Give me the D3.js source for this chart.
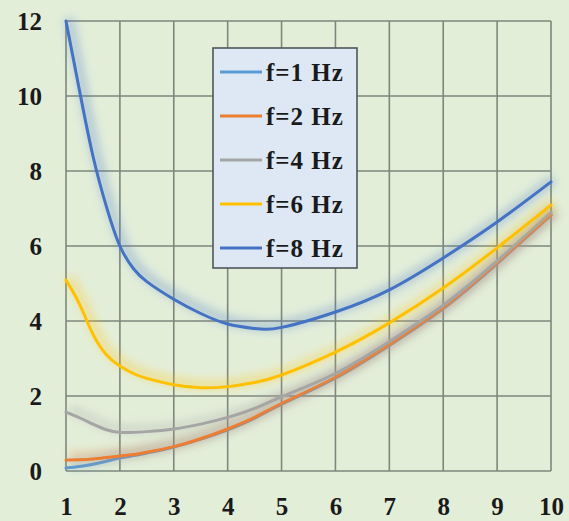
<!DOCTYPE html>
<html>
<head>
<meta charset="utf-8">
<script src="https://cdn.jsdelivr.net/npm/d3@7"></script>
<style>
  html, body { margin: 0; padding: 0; background: #e3eed9; }
  svg { display: block; }
</style>
</head>
<body>
<svg id="chart" width="569" height="521"></svg>
<script>
// Sample positions along the horizontal axis
const xValues = [1, 1.25, 1.5, 1.75, 2, 2.25, 2.5, 3, 3.5, 4, 4.5, 5, 6, 7, 8, 9, 10];

// Curves, one per frequency
const f1Hz = [0.08, 0.12, 0.18, 0.26, 0.35, 0.41, 0.48, 0.64, 0.85, 1.1, 1.41, 1.78, 2.48, 3.35, 4.33, 5.53, 6.82];
const f2Hz = [0.29, 0.3, 0.32, 0.36, 0.4, 0.44, 0.5, 0.65, 0.86, 1.12, 1.43, 1.8, 2.5, 3.37, 4.35, 5.55, 6.83];
const f4Hz = [1.57, 1.42, 1.25, 1.1, 1.03, 1.03, 1.05, 1.12, 1.25, 1.43, 1.67, 1.98, 2.6, 3.45, 4.42, 5.6, 6.9];
const f6Hz = [5.09, 4.45, 3.65, 3.1, 2.8, 2.6, 2.47, 2.3, 2.22, 2.25, 2.36, 2.56, 3.17, 3.95, 4.88, 5.95, 7.09];
const f8Hz = [12, 10.15, 8.4, 7.05, 6.0, 5.4, 5.05, 4.58, 4.2, 3.92, 3.8, 3.83, 4.24, 4.83, 5.68, 6.64, 7.71];

const seriesNames = ["f=1 Hz", "f=2 Hz", "f=4 Hz", "f=6 Hz", "f=8 Hz"];
const seriesValues = [f1Hz, f2Hz, f4Hz, f6Hz, f8Hz];
const seriesColors = ["#5b9bd5", "#ed7d31", "#a5a5a5", "#ffc000", "#4472c4"];

const xTicks = [1, 2, 3, 4, 5, 6, 7, 8, 9, 10];
const yTicks = [0, 2, 4, 6, 8, 10, 12];

const FONT = "Liberation Serif";

const svg = d3.select("#chart");
const plotLeft = 66, plotRight = 551, plotTop = 21, plotBottom = 471;

const x = d3.scaleLinear().domain([1, 10]).range([plotLeft, plotRight]);
const y = d3.scaleLinear().domain([0, 12]).range([plotBottom, plotTop]);

// Soft glow behind each curve
const defs = svg.append("defs");
const glow = defs.append("filter").attr("id", "glow")
  .attr("x", "-20%").attr("y", "-20%").attr("width", "140%").attr("height", "140%");
glow.append("feGaussianBlur").attr("stdDeviation", 4.5);

// Grid
const grid = svg.append("g").attr("stroke", "#7d877b").attr("stroke-width", 1.6);
grid.selectAll("line.v").data(xTicks).join("line")
  .attr("x1", d => x(d)).attr("x2", d => x(d))
  .attr("y1", plotTop).attr("y2", plotBottom);
grid.selectAll("line.h").data(yTicks).join("line")
  .attr("x1", plotLeft).attr("x2", plotRight)
  .attr("y1", d => y(d)).attr("y2", d => y(d));

// Axes (labels only)
const xAxis = svg.append("g").attr("transform", `translate(0,${plotBottom})`)
  .call(d3.axisBottom(x).tickValues(xTicks).tickSize(0).tickPadding(0).tickFormat(d3.format("d")));
xAxis.select(".domain").remove();
xAxis.selectAll("text").attr("y", 44).attr("dy", null);

const yAxis = svg.append("g").attr("transform", `translate(${plotLeft},0)`)
  .call(d3.axisLeft(y).tickValues(yTicks).tickSize(0).tickPadding(24).tickFormat(d3.format("d")));
yAxis.select(".domain").remove();
yAxis.selectAll("text").attr("dy", "0.34em");

[xAxis, yAxis].forEach(a => a.attr("font-family", FONT).attr("font-size", 25).attr("font-weight", "bold"));
svg.selectAll(".tick text").attr("fill", "#1a1a1a");

// Curves
const line = d3.line()
  .x((d, i) => x(xValues[i]))
  .y(d => y(d))
  .curve(d3.curveNatural);

const curves = svg.append("g");
seriesValues.forEach((vals, k) => {
  const g = curves.append("g");
  g.append("path")
    .attr("d", line(vals))
    .attr("fill", "none")
    .attr("stroke", seriesColors[k])
    .attr("stroke-width", 11)
    .attr("stroke-opacity", 0.28)
    .attr("transform", "translate(3,-3)")
    .attr("filter", "url(#glow)");
  g.append("path")
    .attr("d", line(vals))
    .attr("fill", "none")
    .attr("stroke", seriesColors[k])
    .attr("stroke-width", 3)
    .attr("stroke-linecap", "round");
});

// Legend
const lg = svg.append("g").attr("transform", "translate(213,48)")
  .attr("font-family", FONT).attr("font-weight", "bold").attr("font-size", 25);
lg.append("rect").attr("width", 144).attr("height", 220)
  .attr("fill", "#dde8f4").attr("stroke", "#50555a").attr("stroke-width", 1.6);
seriesNames.forEach((name, k) => {
  const ry = 24 + k * 44;
  lg.append("line").attr("x1", 7).attr("x2", 49).attr("y1", ry).attr("y2", ry)
    .attr("stroke", seriesColors[k]).attr("stroke-width", 3);
  lg.append("text").attr("x", 53).attr("y", ry).attr("dy", "0.34em")
    .attr("fill", "#1a1a1a").attr("letter-spacing", 1).text(name);
});
</script>
</body>
</html>
